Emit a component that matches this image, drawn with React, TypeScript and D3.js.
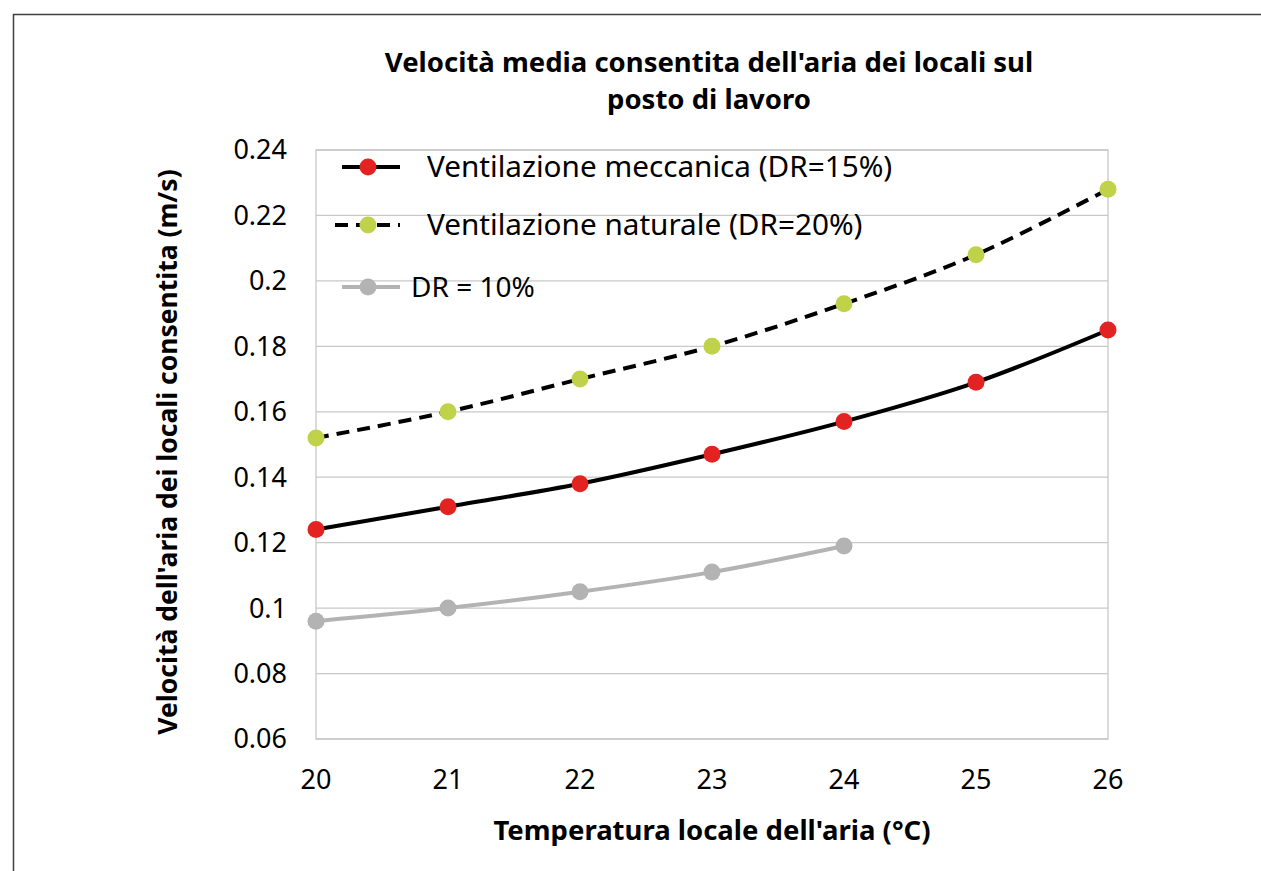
import React from "react";
import * as d3 from "d3";

const temps = [20, 21, 22, 23, 24, 25, 26];
const meccanica = [0.124, 0.131, 0.138, 0.147, 0.157, 0.169, 0.185];
const naturale = [0.152, 0.16, 0.17, 0.18, 0.193, 0.208, 0.228];
const dr10 = [0.096, 0.1, 0.105, 0.111, 0.119];
const yTicks = [0.06, 0.08, 0.1, 0.12, 0.14, 0.16, 0.18, 0.2, 0.22, 0.24];
const titleLines = ["Velocità media consentita dell'aria dei locali sul", "posto di lavoro"];
const xTitle = "Temperatura locale dell'aria (°C)";
const yTitle = "Velocità dell'aria dei locali consentita (m/s)";
const legendLabels = ["Ventilazione meccanica (DR=15%)", "Ventilazione naturale (DR=20%)", "DR = 10%"];

const W = 1261, H = 871;
const L = 316, R = 1108, T = 150, B = 739;
const FONT = "'Noto Sans', 'Open Sans', sans-serif";

export default function App() {
  const x = d3.scaleLinear().domain([20, 26]).range([L, R]);
  const y = d3.scaleLinear().domain([0.06, 0.24]).range([B, T]);
  const line = d3
    .line<number>()
    .x((_, i) => x(temps[i]))
    .y((d) => y(d))
    .curve(d3.curveCatmullRom.alpha(0.5));

  const series = [
    { vals: dr10, stroke: "#b3b3b3", fill: "#b3b3b3", dash: undefined },
    { vals: meccanica, stroke: "#000", fill: "#e32322", dash: undefined },
    { vals: naturale, stroke: "#000", fill: "#bfd24a", dash: "13 8" },
  ];

  const legend = [
    { y: 167, stroke: "#000", fill: "#e32322", dash: undefined, label: legendLabels[0], x1: 342, tx: 427, fs: 29.7 },
    { y: 225, stroke: "#000", fill: "#bfd24a", dash: "13 8", label: legendLabels[1], x1: 335, tx: 427, fs: 29.7 },
    { y: 287, stroke: "#b3b3b3", fill: "#b3b3b3", dash: undefined, label: legendLabels[2], x1: 342, tx: 411, fs: 28 },
  ];

  return (
    <svg width={W} height={H} style={{ position: "absolute", left: 0, top: 0, background: "#fff" }} fontFamily={FONT}>
      <rect x={0} y={0} width={W} height={H} fill="#fff" />
      <path d={`M13.5,${H + 5} V14.5 H${W + 5}`} fill="none" stroke="#404040" strokeWidth={1.5} />
      {yTicks.map((t) => (
        <line key={t} x1={L} x2={R} y1={y(t)} y2={y(t)} stroke="#c8c8c8" strokeWidth={1.3} />
      ))}
      <rect x={L} y={T} width={R - L} height={B - T} fill="none" stroke="#c8c8c8" strokeWidth={1.3} />
      {yTicks.map((t) => (
        <text key={t} x={287} y={y(t)} dy="0.35em" textAnchor="end" fontSize={27} fill="#000">
          {d3.format("")(+t.toFixed(2))}
        </text>
      ))}
      {temps.map((t) => (
        <text key={t} x={x(t)} y={780} dy="0.35em" textAnchor="middle" fontSize={27} fill="#000">
          {t}
        </text>
      ))}
      {series.map((s, k) => (
        <g key={k}>
          <path d={line(s.vals) || ""} fill="none" stroke={s.stroke} strokeWidth={4} strokeDasharray={s.dash} />
          {s.vals.map((v, i) => (
            <circle key={i} cx={x(temps[i])} cy={y(v)} r={8.5} fill={s.fill} />
          ))}
        </g>
      ))}
      {legend.map((l, k) => (
        <g key={k}>
          <line x1={l.x1} x2={400} y1={l.y} y2={l.y} stroke={l.stroke} strokeWidth={4} strokeDasharray={l.dash} />
          <circle cx={368} cy={l.y} r={8.5} fill={l.fill} />
          <text x={l.tx} y={l.y} dy="0.35em" fontSize={l.fs} fill="#000">
            {l.label}
          </text>
        </g>
      ))}
      {titleLines.map((t, i) => (
        <text key={i} x={709} y={62 + i * 37} dy="0.35em" textAnchor="middle" fontSize={27.5} fontWeight="bold" fill="#000">
          {t}
        </text>
      ))}
      <text x={712} y={830} dy="0.35em" textAnchor="middle" fontSize={27.5} fontWeight="bold" fill="#000">
        {xTitle}
      </text>
      <text transform={`translate(168,452) rotate(-90)`} dy="0.35em" textAnchor="middle" fontSize={26.5} fontWeight="bold" fill="#000">
        {yTitle}
      </text>
    </svg>
  );
}
